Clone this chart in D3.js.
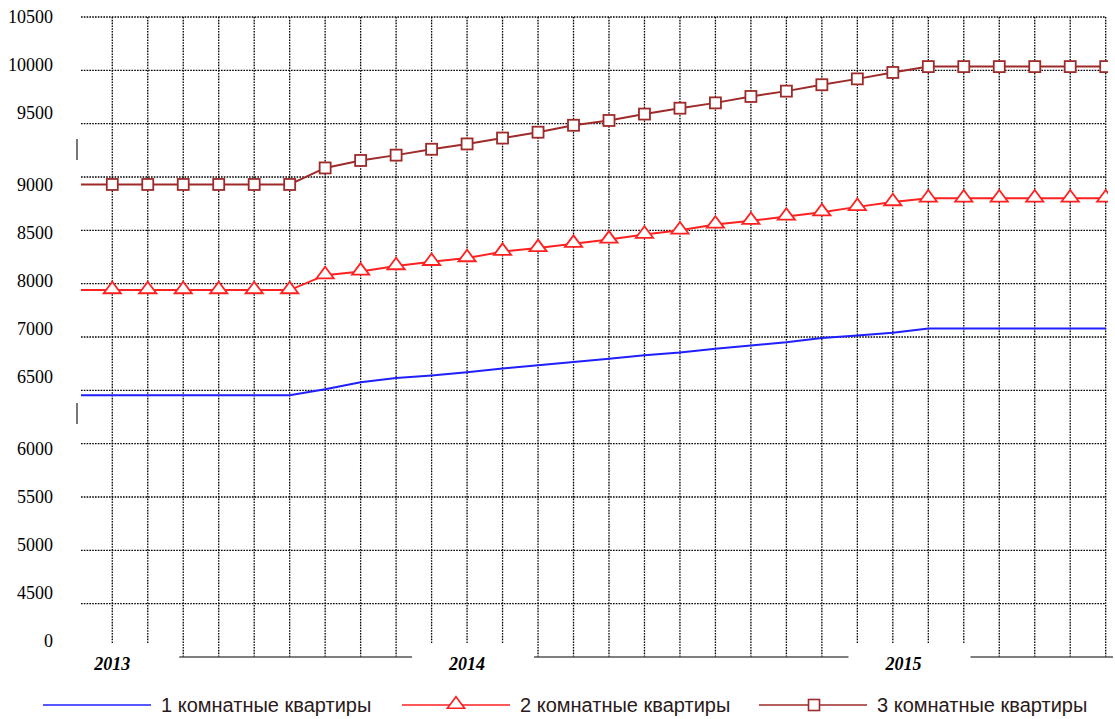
<!DOCTYPE html>
<html>
<head>
<meta charset="utf-8">
<script src="https://cdn.jsdelivr.net/npm/d3@7"></script>
<style>
  body { margin: 0; background: #fff; }
  #chart svg { display: block; }
</style>
</head>
<body>
<div id="chart"></div>
<script>
// months shown on the chart (first one is only the lead-in, cut by the left edge)
const months = ["2012-12",
  "2013-01","2013-02","2013-03","2013-04","2013-05","2013-06","2013-07","2013-08","2013-09","2013-10","2013-11","2013-12",
  "2014-01","2014-02","2014-03","2014-04","2014-05","2014-06","2014-07","2014-08","2014-09","2014-10","2014-11","2014-12",
  "2015-01","2015-02","2015-03","2015-04","2015-05"];

// price per m2
const room1 = [6955, 6955, 6955, 6955, 6955, 6955, 6955, 7010, 7075, 7115, 7140, 7170, 7205, 7235, 7265, 7295,
  7330, 7355, 7390, 7420, 7450, 7490, 7515, 7540, 7580, 7580, 7580, 7580, 7580, 7580];
const room2 = [7940, 7940, 7940, 7940, 7940, 7940, 7940, 8080, 8115, 8165, 8205, 8240, 8300, 8335, 8375, 8415,
  8460, 8500, 8555, 8590, 8630, 8670, 8720, 8765, 8800, 8800, 8800, 8800, 8800, 8800];
const room3 = [8930, 8930, 8930, 8930, 8930, 8930, 8930, 9085, 9155, 9205, 9260, 9310, 9365, 9420, 9485, 9530,
  9590, 9645, 9695, 9755, 9805, 9865, 9920, 9980, 10035, 10035, 10035, 10035, 10035, 10035];

const seriesNames = ["1 комнатные квартиры", "2 комнатные квартиры", "3 комнатные квартиры"];

// y labels as they are printed (three blocks with small breaks between them)
const yLabelGroups = [
  ["10500", "10000", "9500"],
  ["9000", "8500", "8000", "7000", "6500"],
  ["6000", "5500", "5000", "4500", "0"]
];
const yGrid = d3.range(5000, 10501, 500);

// year labels, placed by month index
const years = ["2013", "2014", "2015"];
const yearAt = [1, 11, 23.3];

const width = 1115, height = 719;
const plot = { left: 81, right: 1106, top: 17, bottom: 657 };

const svg = d3.select("#chart").append("svg")
  .attr("width", width)
  .attr("height", height)
  .style("font-family", "'Liberation Sans', Arial, sans-serif");

// scales
const x = d3.scaleLinear().domain([0, 29]).range([76.8, 1105.7]);
const y = d3.scaleLinear().domain([4500, 10500]).range([plot.bottom, plot.top]);

svg.append("defs").append("clipPath").attr("id", "clip")
  .append("rect")
  .attr("x", plot.left).attr("y", 0)
  .attr("width", plot.right - plot.left + 2).attr("height", plot.bottom);

// grid
const grid = svg.append("g");
grid.selectAll(".hg").data(yGrid).join("line")
  .attr("x1", plot.left).attr("x2", plot.right)
  .attr("y1", d => y(d)).attr("y2", d => y(d))
  .attr("stroke", "#000").attr("stroke-width", 1.3)
  .attr("stroke-dasharray", "1.6,1.2");

grid.selectAll(".vg").data(d3.range(1, months.length)).join("line")
  .attr("x1", d => x(d)).attr("x2", d => x(d))
  .attr("y1", plot.top).attr("y2", plot.bottom)
  .attr("stroke", "#000").attr("stroke-width", 1.3)
  .attr("stroke-dasharray", "1.6,1.2");

// bottom axis line
svg.append("line")
  .attr("x1", plot.left).attr("x2", 1113)
  .attr("y1", plot.bottom).attr("y2", plot.bottom)
  .attr("stroke", "#555").attr("stroke-width", 1.6);

// year labels punch a hole in the axis
const yearG = svg.selectAll(".year").data(years).join("g")
  .attr("transform", (d, i) => `translate(${x(yearAt[i])},0)`);
yearG.append("rect")
  .attr("x", -55).attr("y", 644).attr("width", 122).attr("height", 30)
  .attr("fill", "#fff");
yearG.append("text")
  .attr("y", 670)
  .attr("text-anchor", "middle")
  .style("font-family", "'Liberation Serif', 'Times New Roman', serif")
  .style("font-size", "18px").style("font-weight", "bold").style("font-style", "italic")
  .attr("fill", "#000")
  .text(d => d);

// y labels
const slot = d3.scaleLinear().domain([0, 13]).range([17, 641]);
const slotStart = [0, 3.5, 9];
yLabelGroups.forEach((grp, gi) => {
  svg.append("g").selectAll("text").data(grp).join("text")
    .attr("x", 53)
    .attr("y", (d, i) => slot(slotStart[gi] + i))
    .attr("dy", "0.35em")
    .attr("text-anchor", "end")
    .style("font-family", "'Liberation Serif', 'Times New Roman', serif")
    .style("font-size", "18px")
    .attr("fill", "#000")
    .text(d => d);
});
// little break marks between the label blocks
svg.selectAll(".brk").data([2.75, 8.25]).join("line")
  .attr("x1", 77).attr("x2", 77)
  .attr("y1", d => slot(d) - 10).attr("y2", d => slot(d) + 11)
  .attr("stroke", "#555").attr("stroke-width", 1.6);

// lines
const line = d3.line()
  .x((d, i) => x(i))
  .y(d => y(d));

const colors = ["#1f1fff", "#ff2020", "#9e2a2a"];
const data = [room1, room2, room3];
const lines = svg.append("g").attr("clip-path", "url(#clip)");

data.forEach((vals, k) => {
  lines.append("path")
    .datum(vals)
    .attr("fill", "none")
    .attr("stroke", colors[k])
    .attr("stroke-width", 2)
    .attr("d", line);
});

// markers
const triPath = "M0,-8.3L8.6,3.2L-8.6,3.2Z";
const pts = d3.range(months.length).filter(i => x(i) >= plot.left);

lines.selectAll(".tri").data(pts).join("path")
  .attr("transform", i => `translate(${x(i)},${y(room2[i])})`)
  .attr("d", triPath)
  .attr("fill", "#fff").attr("stroke", colors[1]).attr("stroke-width", 1.8);

lines.selectAll(".sq").data(pts).join("rect")
  .attr("x", i => x(i) - 5.5).attr("y", i => y(room3[i]) - 5.5)
  .attr("width", 11).attr("height", 11)
  .attr("fill", "#fff").attr("stroke", colors[2]).attr("stroke-width", 1.8);

// legend
const legX = [43, 402, 759];
const leg = svg.selectAll(".leg").data(seriesNames).join("g")
  .attr("transform", (d, i) => `translate(${legX[i]},705)`);
leg.append("line")
  .attr("x1", 0).attr("x2", 108)
  .attr("stroke", (d, i) => colors[i]).attr("stroke-width", 1.6);
leg.filter((d, i) => i === 1).append("path")
  .attr("transform", "translate(54,0)")
  .attr("d", triPath)
  .attr("fill", "#fff").attr("stroke", colors[1]).attr("stroke-width", 1.6);
leg.filter((d, i) => i === 2).append("rect")
  .attr("x", 49.5).attr("y", -5.5).attr("width", 11).attr("height", 11)
  .attr("fill", "#fff").attr("stroke", colors[2]).attr("stroke-width", 1.6);
leg.append("text")
  .attr("x", 118).attr("dy", "0.35em")
  .style("font-size", "20px")
  .attr("fill", "#2a1a1a")
  .text(d => d);
</script>
</body>
</html>
